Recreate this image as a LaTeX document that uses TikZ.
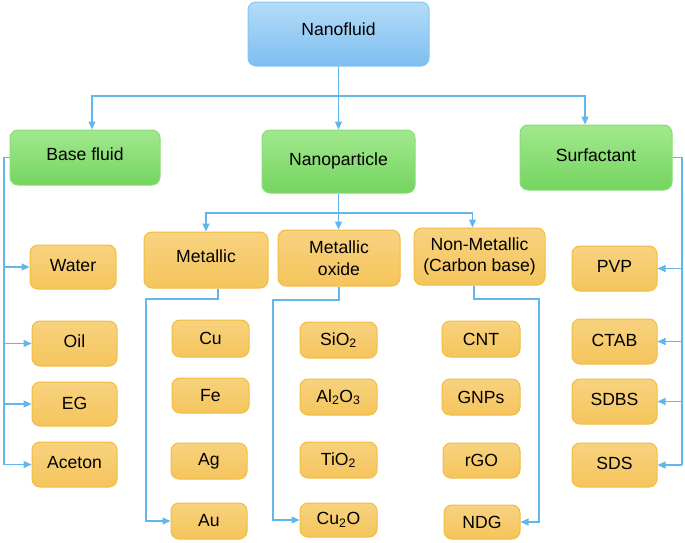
\documentclass[tikz,border=0pt]{standalone}
\usepackage{fontspec}
\setmainfont{Liberation Sans}
\usetikzlibrary{arrows.meta}
\definecolor{conn}{HTML}{62B6EE}
\definecolor{bluetop}{HTML}{B4DCF8}
\definecolor{bluebot}{HTML}{7EBEF0}
\definecolor{blueline}{HTML}{86C5F0}
\definecolor{greentop}{HTML}{A2E88E}
\definecolor{greenbot}{HTML}{74D55F}
\definecolor{greenline}{HTML}{8ADC78}
\definecolor{orangetop}{HTML}{F8D27F}
\definecolor{orangebot}{HTML}{F5C55C}
\definecolor{orangeline}{HTML}{F0BD42}
\tikzset{
  basebox/.style={rounded corners=8pt, line width=1pt, inner sep=0pt, align=center,
    font=\fontsize{17.6}{21.5}\selectfont},
  bbox/.style={basebox, draw=blueline, top color=bluetop, bottom color=bluebot},
  gbox/.style={basebox, draw=greenline, top color=greentop, bottom color=greenbot},
  obox/.style={basebox, draw=orangeline, top color=orangetop, bottom color=orangebot},
  wire/.style={draw=conn, line width=1.2pt},
  arr/.style={wire, -{Triangle[length=8pt,width=7pt]}}
}
\begin{document}
\begin{tikzpicture}[x=1pt,y=-1pt]
\useasboundingbox (0,0) rectangle (685,542);
% top level
\node[bbox, minimum width=181pt, minimum height=64pt] (nano) at (338.5,34) {\raisebox{9pt}{Nanofluid}};
\node[gbox, minimum width=150pt, minimum height=55pt] (base) at (85,157.5) {\raisebox{7pt}{Base fluid}};
\node[gbox, minimum width=153pt, minimum height=63pt] (np) at (338.5,161.5) {\raisebox{4pt}{Nanoparticle}};
\node[gbox, minimum width=152pt, minimum height=65pt] (surf) at (596,157.5) {\raisebox{5pt}{Surfactant}};
% nanoparticle categories
\node[obox, minimum width=124pt, minimum height=56pt] (metal) at (206,260) {\raisebox{7pt}{Metallic}};
\node[obox, minimum width=122pt, minimum height=56pt] (moxide) at (339,258) {Metallic\\oxide};
\node[obox, minimum width=131pt, minimum height=57pt] (nonmetal) at (479.5,256.5) {Non-Metallic\\(Carbon base)};
% base fluids
\node[obox, minimum width=86pt, minimum height=44pt] (water) at (73,267) {\raisebox{4pt}{Water}};
\node[obox, minimum width=85pt, minimum height=45pt] (oil) at (74.5,343.5) {\raisebox{5pt}{Oil}};
\node[obox, minimum width=85pt, minimum height=44pt] (eg) at (74.5,404) {\raisebox{2pt}{EG}};
\node[obox, minimum width=85pt, minimum height=45pt] (aceton) at (74.5,464.5) {\raisebox{4pt}{Aceton}};
% metallic
\node[obox, minimum width=77pt, minimum height=37pt] (cu) at (210.5,338.5) {Cu};
\node[obox, minimum width=77pt, minimum height=35pt] (fe) at (210.5,395.5) {Fe};
\node[obox, minimum width=76pt, minimum height=36pt] (ag) at (209,461) {Ag};
\node[obox, minimum width=76pt, minimum height=36pt] (au) at (209,521) {Au};
% metallic oxide
\node[obox, minimum width=77pt, minimum height=36pt] (sio2) at (338.5,340) {SiO\textsubscript{2}};
\node[obox, minimum width=77pt, minimum height=36pt] (al2o3) at (338.5,397) {Al\textsubscript{2}O\textsubscript{3}};
\node[obox, minimum width=77pt, minimum height=36pt] (tio2) at (338.5,460) {TiO\textsubscript{2}};
\node[obox, minimum width=77pt, minimum height=34pt] (cu2o) at (338.5,520) {Cu\textsubscript{2}O};
% non-metallic
\node[obox, minimum width=78pt, minimum height=36pt] (cnt) at (481,339) {CNT};
\node[obox, minimum width=78pt, minimum height=36pt] (gnps) at (481,397) {GNPs};
\node[obox, minimum width=77pt, minimum height=35pt] (rgo) at (481.5,460.5) {rGO};
\node[obox, minimum width=76pt, minimum height=34pt] (ndg) at (482,522) {NDG};
% surfactants
\node[obox, minimum width=85pt, minimum height=45pt] (pvp) at (614.5,268.5) {\raisebox{4pt}{PVP}};
\node[obox, minimum width=85pt, minimum height=45pt] (ctab) at (614.5,341.5) {\raisebox{2pt}{CTAB}};
\node[obox, minimum width=85pt, minimum height=45pt] (sdbs) at (614.5,401.5) {\raisebox{4pt}{SDBS}};
\node[obox, minimum width=85pt, minimum height=44pt] (sds) at (614.5,465) {\raisebox{4pt}{SDS}};
% top connectors
\coordinate (topbar) at (338.5,96);
\draw[arr] (nano.south) -- (np.north);
\draw[arr] (topbar) -| ([xshift=7pt]base.north);
\draw[arr] (topbar) -| ([xshift=-11pt]surf.north);
% nanoparticle connectors
\coordinate (npbar) at (338.5,213);
\draw[arr] (np.south) -- (moxide.north -| np.south);
\draw[arr] (npbar) -| (metal.north);
\draw[arr] (npbar) -| ([xshift=-7pt]nonmetal.north);
% base fluid
\coordinate (bl) at (4,464.5);
\draw[wire] (base.west) -| (bl);
\foreach \n in {water,oil,eg,aceton} \draw[arr] (bl |- \n.west) -- (\n.west);
% surfactant
\coordinate (sr) at (682,465);
\draw[wire] (surf.east) -| (sr);
\foreach \n in {pvp,ctab,sdbs,sds} \draw[arr] (sr |- \n.east) -- (\n.east);
% metallic
\coordinate (ml) at (146,299);
\draw[arr] ([xshift=12pt]metal.south) |- (ml) |- (au.west);
\coordinate (mol) at (273,300);
\draw[arr] (moxide.south) |- (mol) |- (cu2o.west);
\coordinate (nml) at (539,299);
\draw[arr] ([xshift=-5.5pt]nonmetal.south) |- (nml) |- (ndg.east);
\end{tikzpicture}
\end{document}
